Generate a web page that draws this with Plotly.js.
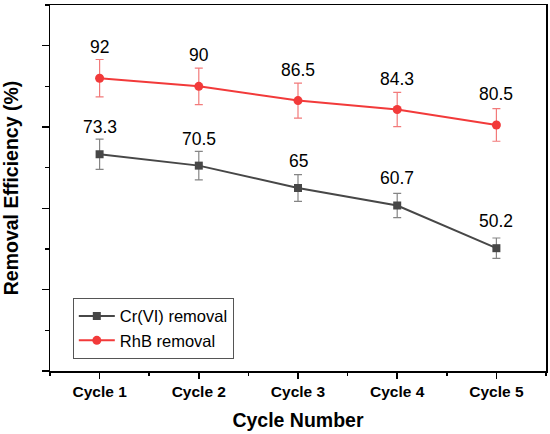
<!DOCTYPE html>
<html>
<head>
<meta charset="utf-8">
<script src="https://cdn.plot.ly/plotly-3.0.1.min.js"></script>
<style>html,body{margin:0;padding:0;background:#fff;}#chart{width:550px;height:434px;}</style>
</head>
<body>
<div id="chart"></div>
<script>
var cycles = [1, 2, 3, 4, 5];
var cycleLabels = ["Cycle 1", "Cycle 2", "Cycle 3", "Cycle 4", "Cycle 5"];
var crValues = [73.3, 70.5, 65, 60.7, 50.2];
var crErrors = [3.7, 3.5, 3.3, 3.0, 2.5];
var rhbValues = [92, 90, 86.5, 84.3, 80.5];
var rhbErrors = [4.6, 4.5, 4.3, 4.2, 4.0];
var crName = "Cr(VI) removal";
var rhbName = "RhB removal";

var crColor = "#474747", crErrColor = "#858585";
var rhbColor = "#f23a3a", rhbErrColor = "#f27a7a";

var traces = [
  {
    x: cycles, y: crValues, name: crName, type: "scatter", mode: "lines+markers",
    line: {color: crColor, width: 2},
    marker: {symbol: "square", size: 8, color: crColor},
    error_y: {type: "data", array: crErrors, visible: true, color: crErrColor, thickness: 1.2, width: 4}
  },
  {
    x: cycles, y: rhbValues, name: rhbName, type: "scatter", mode: "lines+markers",
    line: {color: rhbColor, width: 2},
    marker: {symbol: "circle", size: 9, color: rhbColor},
    error_y: {type: "data", array: rhbErrors, visible: true, color: rhbErrColor, thickness: 1.2, width: 4}
  }
];

var annotations = [];
function addLabels(vals, shift) {
  for (var i = 0; i < vals.length; i++) {
    annotations.push({
      x: cycles[i], y: vals[i], xref: "x", yref: "y", text: String(vals[i]),
      showarrow: false, yshift: shift, font: {family: "Liberation Sans, Arial, sans-serif", size: 17.5, color: "#000"}
    });
  }
}
addLabels(crValues, 27);
addLabels(rhbValues, 31);

var layout = {
  width: 550, height: 434,
  margin: {l: 50, r: 4, t: 5, b: 63},
  paper_bgcolor: "#fff", plot_bgcolor: "#fff",
  font: {family: "Liberation Sans, Arial, sans-serif", color: "#000"},
  showlegend: true,
  legend: {
    x: 0.046, y: 0.117, xanchor: "left", yanchor: "middle",
    bordercolor: "#555", borderwidth: 1, bgcolor: "#fff",
    font: {size: 16.5, color: "#000"}, tracegroupgap: 0, itemwidth: 36
  },
  xaxis: {
    range: [0.5, 5.5], tickmode: "array", tickvals: cycles, ticktext: cycleLabels,
    ticks: "outside", ticklen: 6, tickwidth: 1.5, tickcolor: "#000",
    minor: {ticks: "outside", ticklen: 3, tickwidth: 1.5, tickcolor: "#000", dtick: 0.5, tick0: 0.5, showgrid: false},
    showline: true, linecolor: "#000", linewidth: 1.5, mirror: true,
    showgrid: false, zeroline: false,
    tickfont: {size: 15.5, color: "#000", weight: "bold"},
    title: {text: "<b>Cycle Number</b>", font: {size: 19.5, color: "#000"}, standoff: 14}
  },
  yaxis: {
    range: [20, 110], tick0: 20, dtick: 20, ticks: "outside", ticklen: 7, tickwidth: 1.5, tickcolor: "#000",
    minor: {ticks: "outside", ticklen: 4, tickwidth: 1.5, tickcolor: "#000", dtick: 10, showgrid: false},
    showticklabels: false,
    showline: true, linecolor: "#000", linewidth: 1.5, mirror: true,
    showgrid: false, zeroline: false,
    title: {text: "<b>Removal Efficiency (%)</b>", font: {size: 19.5, color: "#000"}, standoff: 22}
  },
  annotations: annotations
};

Plotly.newPlot("chart", traces, layout, {displayModeBar: false, staticPlot: true});
</script>
</body>
</html>
